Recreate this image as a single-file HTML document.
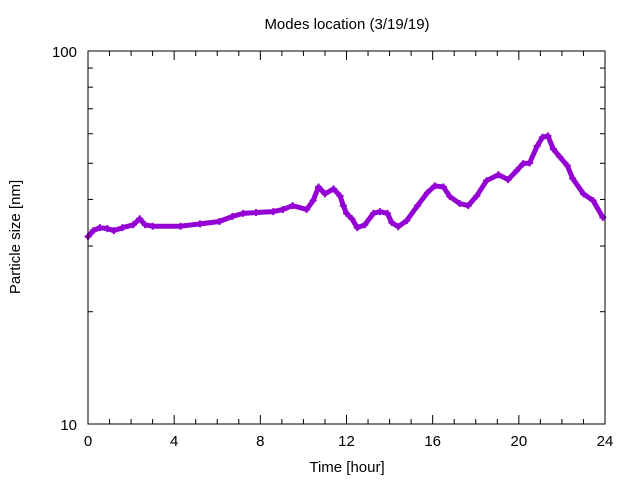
<!DOCTYPE html>
<html><head><meta charset="utf-8"><style>
body{margin:0;background:#fff}
svg{display:block;font-family:"Liberation Sans",sans-serif}
</style></head><body>
<svg id="chart" width="640" height="480" xmlns="http://www.w3.org/2000/svg">
<text x="347" y="29" font-size="15" text-anchor="middle">Modes location (3/19/19)</text>
<g id="axes"></g>
<g id="series"></g>
<rect x="88" y="51" width="517" height="373" fill="none" stroke="#000" stroke-width="1"/>
<text x="347" y="472" font-size="15" text-anchor="middle">Time [hour]</text>
<text transform="translate(20,237) rotate(-90)" font-size="15" text-anchor="middle">Particle size [nm]</text>
</svg>
<script>
const hours=[0,0.25,0.55,0.9,1.2,1.6,2.1,2.4,2.65,3.0,4.3,5.2,6.1,6.7,7.2,7.8,8.6,9.05,9.5,10.15,10.45,10.7,11.0,11.4,11.7,11.85,12.0,12.25,12.5,12.85,13.25,13.55,13.9,14.1,14.4,14.8,15.3,15.75,16.1,16.5,16.8,17.25,17.65,18.05,18.5,19.05,19.5,19.9,20.2,20.5,20.85,21.1,21.35,21.6,21.9,22.25,22.5,23.0,23.45,23.9];
const sizes=[31.8,33.0,33.6,33.4,33.0,33.6,34.2,35.5,34.2,33.9,33.9,34.4,34.9,36.0,36.7,36.9,37.1,37.6,38.5,37.6,39.7,43.2,41.4,42.7,40.9,38.5,36.7,35.5,33.6,34.2,36.7,37.1,36.7,34.7,33.8,35.1,38.5,41.7,43.5,43.2,40.7,39.0,38.5,40.9,44.9,46.6,45.2,47.8,49.9,50.1,55.6,58.7,59.2,54.6,52.0,49.3,45.5,41.4,39.7,35.8];
const xTicks=[0,4,8,12,16,20,24];
const yTicks=[10,100];
const L=88,R=605,T=51,B=424;
const xs=h=>L+(R-L)*h/24;
const ys=v=>B-(B-T)*Math.log10(v/10);
const NS="http://www.w3.org/2000/svg";
const axes=document.getElementById('axes');
function mk(t,a,p){const e=document.createElementNS(NS,t);for(const k in a)e.setAttribute(k,a[k]);p.appendChild(e);return e;}
for(let h=0;h<=24;h++){
  const len=xTicks.includes(h)?9:5;
  const t1=mk('line',{x1:xs(h),x2:xs(h),y1:B,y2:B-len,stroke:'#000'},axes);
  
  
  const t2=mk('line',{x1:xs(h),x2:xs(h),y1:T,y2:T+len,stroke:'#000'},axes);
  
  
}
xTicks.forEach(h=>{
  const t=mk('text',{x:xs(h),y:B+22,'font-size':15,'text-anchor':'middle'},axes);
  t.textContent=h;
  
  
});
for(let v=10;v<=100;v+=10){
  const len=(v===10||v===100)?9:5;
  const a=mk('line',{x1:L,x2:L+len,y1:ys(v),y2:ys(v),stroke:'#000'},axes);
  
  
  const b=mk('line',{x1:R,x2:R-len,y1:ys(v),y2:ys(v),stroke:'#000'},axes);
  
  
}
yTicks.forEach(v=>{
  const t=mk('text',{x:L-11,y:ys(v)+6,'font-size':15,'text-anchor':'end'},axes);
  t.textContent=v;
  
  
});
const g=document.getElementById('series');
const pts=hours.map((h,i)=>xs(h).toFixed(1)+','+ys(sizes[i]).toFixed(1)).join(' ');
const pl=mk('polyline',{points:pts,fill:'none',stroke:'#9400d3','stroke-width':5,'stroke-linejoin':'round','stroke-linecap':'round'},g);


hours.forEach((h,i)=>{
  const x=xs(h),y=ys(sizes[i]);
  const p=mk('path',{d:`M${x-3.5},${y}h7M${x},${y-3.5}v7`,stroke:'#9400d3','stroke-width':2},g);
  
  
});
</script>
</body></html>
